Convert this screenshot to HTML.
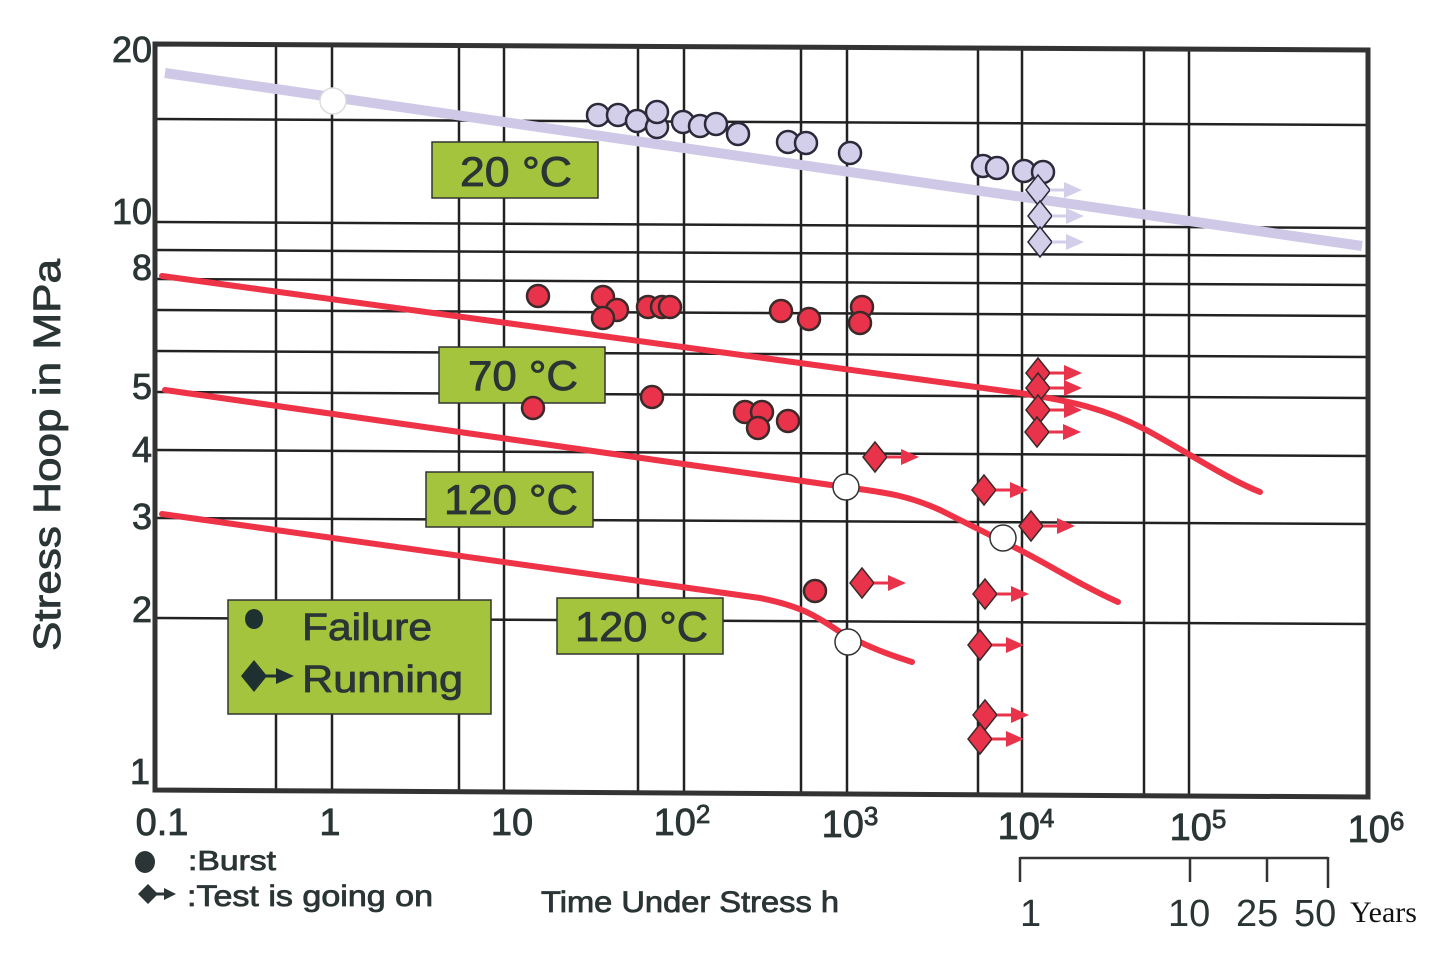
<!DOCTYPE html>
<html><head><meta charset="utf-8"><style>
html,body{margin:0;padding:0;background:#fff;}
svg{display:block;}
text{font-family:"Liberation Sans Narrow","Liberation Sans",sans-serif;fill:#2b3535;}
.t{stroke:#2b3535;stroke-width:0.8;}
</style></head><body>
<svg width="1437" height="955" viewBox="0 0 1437 955" xmlns="http://www.w3.org/2000/svg">
<defs>
<g id="rc"><circle r="11" fill="#e8334a" stroke="#3a2a2a" stroke-width="2.5"/></g>
<g id="lc"><circle r="11" fill="#d3cfea" stroke="#2a2a3a" stroke-width="2.5"/></g>
<g id="rd"><polygon points="0,-15 12,0 0,15 -12,0" fill="#e8334a" stroke="#3a2a2a" stroke-width="1.5"/><line x1="12" y1="0" x2="30" y2="0" stroke="#e8334a" stroke-width="3"/><polygon points="26,-8 44,0 26,8" fill="#e8334a"/></g>
<g id="ld"><polygon points="0,-15 12,0 0,15 -12,0" fill="#d3cfea" stroke="#2a2a3a" stroke-width="1.5"/><line x1="12" y1="0" x2="30" y2="0" stroke="#d3cfea" stroke-width="3"/><polygon points="26,-8 44,0 26,8" fill="#d3cfea"/></g>
</defs>
<g stroke="#222" stroke-width="2.5" fill="none">
<line x1="276" y1="46" x2="276" y2="791"/><line x1="332" y1="46" x2="332" y2="791"/>
<line x1="459" y1="46" x2="459" y2="792"/><line x1="504" y1="46" x2="504" y2="792"/>
<line x1="638" y1="47" x2="638" y2="793"/><line x1="684" y1="47" x2="684" y2="793"/>
<line x1="801" y1="48" x2="801" y2="794"/><line x1="847" y1="48" x2="847" y2="794"/>
<line x1="978" y1="49" x2="978" y2="795"/><line x1="1022" y1="49" x2="1022" y2="795"/>
<line x1="1144" y1="49" x2="1144" y2="796"/><line x1="1189" y1="49" x2="1189" y2="796"/>
<line x1="157" y1="119" x2="1367" y2="125"/><line x1="157" y1="222" x2="1367" y2="228"/>
<line x1="157" y1="250" x2="1367" y2="256"/><line x1="157" y1="279" x2="1367" y2="285"/>
<line x1="157" y1="310" x2="1367" y2="316"/><line x1="157" y1="351" x2="1367" y2="357"/>
<line x1="157" y1="392" x2="1367" y2="398"/><line x1="157" y1="450" x2="1367" y2="456"/>
<line x1="157" y1="518" x2="1367" y2="524"/><line x1="157" y1="618" x2="1367" y2="624"/>
</g>
<polygon points="155,44 1368,50 1368,797 155,790" fill="none" stroke="#333" stroke-width="5"/>
<line x1="165" y1="73" x2="1362" y2="246" stroke="#cfc8e6" stroke-width="10"/>
<g fill="none" stroke="#ee3347" stroke-width="6" stroke-linecap="round">
<path d="M162,276 L1020,393 C1060,400 1100,405 1150,432 C1200,460 1230,480 1260,492"/>
<path d="M165,390 L845,487 C880,492 905,494 940,510 C970,525 990,535 1010,545 C1050,565 1080,585 1118,602"/>
<path d="M162,514 L760,598 C800,606 815,615 840,632 C870,648 890,655 912,662"/>
</g>
<g fill="#a3c43c" stroke="#333" stroke-width="1.5">
<rect x="432" y="142" width="166" height="56"/><rect x="439" y="347" width="166" height="56"/>
<rect x="426" y="472" width="167" height="55"/><rect x="557" y="598" width="166" height="56"/>
<rect x="228" y="600" width="263" height="114"/>
</g>
<g font-size="42" class="t" lengthAdjust="spacingAndGlyphs">
<text x="460" y="186" textLength="112" lengthAdjust="spacingAndGlyphs">20 °C</text>
<text x="468" y="390" textLength="110" lengthAdjust="spacingAndGlyphs">70 °C</text>
<text x="444" y="514" textLength="134" lengthAdjust="spacingAndGlyphs">120 °C</text>
<text x="575" y="641" textLength="133" lengthAdjust="spacingAndGlyphs">120 °C</text>
<text x="302" y="640" font-size="38" textLength="130" lengthAdjust="spacingAndGlyphs">Failure</text>
<text x="302" y="692" font-size="38" textLength="161" lengthAdjust="spacingAndGlyphs">Running</text>
</g>
<ellipse cx="254" cy="619" rx="9" ry="10" fill="#1f3030"/>
<polygon points="254,660 267,676 254,692 241,676" fill="#1f3030"/>
<line x1="266" y1="676" x2="280" y2="676" stroke="#1f3030" stroke-width="3"/>
<polygon points="276,668 294,676 276,684" fill="#1f3030"/>
<g>
<use href="#lc" x="598" y="115"/><use href="#lc" x="618" y="115"/><use href="#lc" x="637" y="121"/><use href="#lc" x="657" y="127"/><use href="#lc" x="657" y="112"/>
<use href="#lc" x="683" y="122"/><use href="#lc" x="700" y="126"/><use href="#lc" x="716" y="124"/><use href="#lc" x="738" y="134"/>
<use href="#lc" x="788" y="142"/><use href="#lc" x="806" y="143"/><use href="#lc" x="850" y="153"/>
<use href="#lc" x="983" y="166"/><use href="#lc" x="997" y="168"/><use href="#lc" x="1024" y="171"/><use href="#lc" x="1043" y="172"/>
<use href="#ld" x="1038" y="190"/><use href="#ld" x="1040" y="216"/><use href="#ld" x="1040" y="242"/>
</g>
<g>
<use href="#rc" x="538" y="296"/><use href="#rc" x="603" y="297"/><use href="#rc" x="617" y="310"/><use href="#rc" x="603" y="318"/>
<use href="#rc" x="648" y="307"/><use href="#rc" x="662" y="307"/><use href="#rc" x="670" y="307"/>
<use href="#rc" x="781" y="311"/><use href="#rc" x="809" y="319"/><use href="#rc" x="862" y="307"/><use href="#rc" x="860" y="323"/>
<use href="#rc" x="533" y="408"/><use href="#rc" x="652" y="397"/><use href="#rc" x="745" y="412"/><use href="#rc" x="762" y="412"/><use href="#rc" x="758" y="428"/><use href="#rc" x="788" y="421"/>
<use href="#rc" x="815" y="591"/>
<use href="#rd" x="1038" y="373"/><use href="#rd" x="1038" y="388"/><use href="#rd" x="1038" y="410"/><use href="#rd" x="1037" y="432"/>
<use href="#rd" x="875" y="457"/><use href="#rd" x="984" y="490"/><use href="#rd" x="1031" y="526"/>
<use href="#rd" x="862" y="583"/><use href="#rd" x="985" y="594"/><use href="#rd" x="980" y="645"/>
<use href="#rd" x="985" y="715"/><use href="#rd" x="980" y="739"/>
</g>
<g fill="#fff" stroke="#333" stroke-width="1.5">
<circle cx="333" cy="101" r="13" stroke="#ddd"/><circle cx="846" cy="487" r="13"/><circle cx="1003" cy="538" r="13"/><circle cx="848" cy="642" r="13"/>
</g>
<g font-size="36" text-anchor="end" class="t">
<text x="152" y="62">20</text><text x="152" y="224">10</text><text x="152" y="280">8</text>
<text x="152" y="399">5</text><text x="152" y="462">4</text><text x="152" y="529">3</text>
<text x="152" y="622">2</text><text x="150" y="784">1</text>
</g>
<g font-size="38" text-anchor="middle" class="t">
<text x="162" y="835">0.1</text><text x="330" y="835">1</text><text x="512" y="835">10</text>
<text x="682" y="835">10<tspan font-size="26" dy="-12">2</tspan></text>
<text x="850" y="837">10<tspan font-size="26" dy="-12">3</tspan></text>
<text x="1026" y="839">10<tspan font-size="26" dy="-12">4</tspan></text>
<text x="1198" y="840">10<tspan font-size="26" dy="-12">5</tspan></text>
<text x="1376" y="842">10<tspan font-size="26" dy="-12">6</tspan></text>
</g>
<text transform="translate(60,455) rotate(-90)" font-size="38" text-anchor="middle" textLength="392" lengthAdjust="spacingAndGlyphs" class="t">Stress Hoop in MPa</text>
<ellipse cx="145" cy="862" rx="10" ry="11" fill="#2b3535"/>
<text x="188" y="870" font-size="28" textLength="88" lengthAdjust="spacingAndGlyphs" class="t">:Burst</text>
<polygon points="148,884 158,894 148,904 138,894" fill="#2b3535"/>
<line x1="156" y1="894" x2="166" y2="894" stroke="#2b3535" stroke-width="3"/>
<polygon points="164,888 176,894 164,900" fill="#2b3535"/>
<text x="187" y="906" font-size="30" textLength="246" lengthAdjust="spacingAndGlyphs" class="t">:Test is going on</text>
<text x="541" y="912" font-size="30" textLength="298" lengthAdjust="spacingAndGlyphs" class="t">Time Under Stress h</text>
<g stroke="#333" stroke-width="2.5">
<line x1="1020" y1="858" x2="1328" y2="858"/>
<line x1="1020" y1="857" x2="1020" y2="882"/><line x1="1190" y1="857" x2="1190" y2="882"/>
<line x1="1267" y1="857" x2="1267" y2="882"/><line x1="1328" y1="857" x2="1328" y2="888"/>
</g>
<g font-size="38" style="fill:#555">
<text x="1020" y="926">1</text><text x="1168" y="926">10</text><text x="1236" y="926">25</text><text x="1294" y="926">50</text>
</g>
<text x="1350" y="922" font-size="30" style="font-family:'Liberation Serif',serif;fill:#111">Years</text>
</svg>
</body></html>
